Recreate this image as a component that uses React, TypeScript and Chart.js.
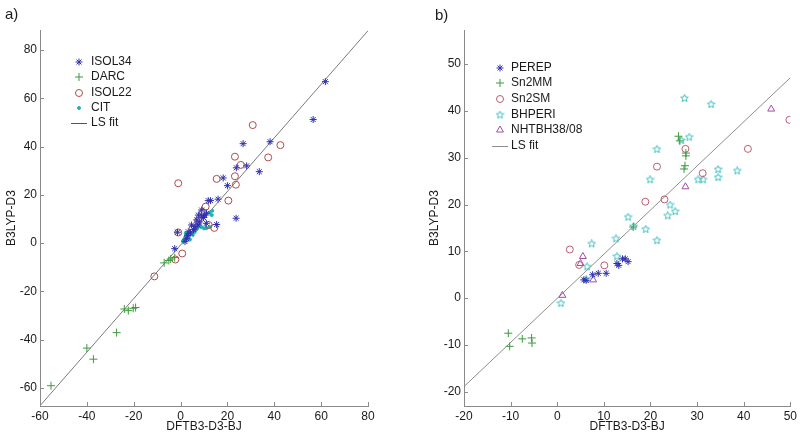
import React, { useEffect, useRef } from 'react';
import { Chart, registerables } from 'chart.js';
Chart.register(...registerables);

type P = [number, number];

// ---------- Panel a data ----------
const ISOL34: P[] = [
  [61.8, 66.9], [56.6, 51.2], [38.2, 42], [26.7, 41.2], [28.2, 32], [23.8, 31.2], [33.6, 29.6],
  [18.2, 27], [20, 23.8], [16, 18.2], [11.8, 17.6], [12.8, 17.6], [23.7, 10.3], [9, 13.7],
  [7.6, 11.6], [9, 11.3], [11.1, 12.4], [6.9, 9.6], [15.4, 7.7], [4.7, 7.5], [-1.3, 4.5],
  [3.3, 4.7], [4.2, 4.2], [1.9, 0.6], [-2.5, -2.3], [11, 8.2], [8, 8.8], [5.5, 5.6], [3, 3.2],
  [2.6, 1.8], [9.8, 10.6], [7.4, 7.6], [10.3, 11.6], [6.2, 6.8],
];
const DARC: P[] = [
  [-55.3, -59.1], [-40, -43.5], [-37.2, -48.1], [-27.3, -37.1], [-24, -27.3], [-22.3, -28],
  [-20.2, -27], [-19.2, -26.7], [-7, -8.2], [-5, -7.2], [-4.2, -6.6], [-2.5, -6],
];
const ISOL22: P[] = [
  [30.8, 48.9], [42.6, 40.6], [37.4, 35.5], [23.2, 35.8], [25.7, 32.4], [23.2, 27.7], [23.6, 24.2],
  [15.4, 26.6], [-1, 24.8], [20.4, 17.6], [10.7, 15.1], [14.4, 6.3], [-1, 4.4], [0.7, -4.3],
  [-2.2, -6.8], [-11.2, -13.8], [7.5, 9.2], [12, 7.5], [5.2, 6], [9.6, 12.8],
];
const CIT: P[] = [
  [13.5, 13.4], [13.3, 11.6], [12.4, 12.6], [9, 6.6], [10, 6.1], [11, 6.2], [12.3, 6.8], [8.3, 7],
  [6, 4.6], [5.2, 3.4], [4.4, 4], [3.4, 3], [2.5, 3.3], [2, 2.4], [1.4, 1.4], [1, 0.8], [3, 1.8],
  [5.6, 5], [4, 1.5], [6.6, 5.5], [7.2, 6.2], [2.2, 4],
];
const FIT_A: P[] = [[-60, -67.4], [80, 88]];

// ---------- Panel b data ----------
const PEREP: P[] = [
  [5.7, 3.9], [6.2, 3.8], [7.6, 5], [8.8, 5.3], [10.5, 5.3], [12.8, 7.4], [13.2, 7], [14, 8.4],
  [14.6, 8.4], [15.2, 7.8],
];
const SN2MM: P[] = [
  [-10.5, -7.5], [-10.2, -10.3], [-7.5, -8.7], [-5.5, -8.5], [-5.4, -9.6], [26, 34.6], [26.3, 33.6],
  [27.6, 31], [27.6, 30.4], [27.4, 28.3], [27.2, 27.6], [16.3, 15.2],
];
const SN2SM: P[] = [
  [49.8, 38.1], [40.9, 31.9], [31.2, 26.7], [21.4, 28.1], [27.5, 31.9], [18.9, 20.6], [23, 21.1],
  [2.7, 10.4], [10.1, 7], [4.7, 7.1],
];
const BHPERI: P[] = [
  [27.3, 42.7], [33, 41.4], [26.6, 33.7], [28.3, 34.4], [21.4, 31.8], [19.9, 25.3], [30.2, 25.3],
  [31.3, 25.3], [34.5, 27.5], [34.5, 25.8], [38.6, 27.2], [24.2, 19.9], [23.7, 17.6], [25.3, 18.5],
  [15.2, 17.3], [19, 14.7], [21.4, 12.3], [12.6, 12.7], [7.4, 11.6], [12.8, 8.9], [6.4, 6.7],
  [6.2, 4], [0.8, -1.1], [16.4, 15.3],
];
const NHTBH: P[] = [[45.9, 40.4], [27.5, 23.8], [5.5, 8.9], [5, 7.4], [7.7, 3.9], [1.1, 0.6]];
const FIT_B: P[] = [[-20, -18.9], [50, 47.1]];

const FONT = '"Liberation Sans", Arial, sans-serif';
const AXIS = '#8a8a8a';
const TXT = '#1a1a1a';

const C_BLUE = '#2f2fae';
const C_GREEN = '#3e9a3e';
const C_RED = '#b04a4a';
const C_CYAN = '#1fb3ad';
const C_PINK = '#bf5a70';
const C_CYAN2 = '#3fbfbf';
const C_MAG = '#a24ea8';

function pentagram(color: string) {
  const c = document.createElement('canvas');
  c.width = 9; c.height = 9;
  const g = c.getContext('2d')!;
  g.strokeStyle = color; g.lineWidth = 1;
  g.beginPath();
  for (let i = 0; i < 10; i++) {
    const r = i % 2 === 0 ? 4 : 1.8;
    const a = -Math.PI / 2 + (i * Math.PI) / 5;
    const x = 4.5 + r * Math.cos(a), y = 4.5 + r * Math.sin(a);
    if (i) g.lineTo(x, y); else g.moveTo(x, y);
  }
  g.closePath(); g.stroke();
  return c;
}

function marker(ctx: CanvasRenderingContext2D, style: any, x: number, y: number, r: number, color: string, fill?: string) {
  ctx.save();
  ctx.strokeStyle = color; ctx.lineWidth = 1;
  if (typeof style !== 'string') {
    ctx.drawImage(style, x - style.width / 2, y - style.height / 2);
  } else if (style === 'circle') {
    ctx.beginPath(); ctx.arc(x, y, r, 0, Math.PI * 2);
    if (fill) { ctx.fillStyle = fill; ctx.fill(); }
    ctx.stroke();
  } else if (style === 'cross') {
    ctx.beginPath(); ctx.moveTo(x - r, y); ctx.lineTo(x + r, y); ctx.moveTo(x, y - r); ctx.lineTo(x, y + r); ctx.stroke();
  } else if (style === 'star') {
    ctx.beginPath();
    ctx.moveTo(x - r, y); ctx.lineTo(x + r, y); ctx.moveTo(x, y - r); ctx.lineTo(x, y + r);
    const d = r * 0.7071;
    ctx.moveTo(x - d, y - d); ctx.lineTo(x + d, y + d); ctx.moveTo(x - d, y + d); ctx.lineTo(x + d, y - d);
    ctx.stroke();
  } else if (style === 'triangle') {
    const h = r * 0.866;
    ctx.beginPath();
    ctx.moveTo(x, y - r); ctx.lineTo(x + h, y + r / 2); ctx.lineTo(x - h, y + r / 2); ctx.closePath();
    ctx.stroke();
  }
  ctx.restore();
}

type LegendItem = { text: string; style?: any; color: string; radius?: number; fill?: string; line?: boolean };
type Deco = {
  label: string; labelX: number; labelY: number; legendY: number; step: number;
  markerX: number; textX: number; lineX0: number; lineX1: number; items: LegendItem[];
};

function makeDeco(o: Deco) {
  return {
    id: 'deco',
    afterDraw(chart: any) {
      const { ctx, chartArea } = chart;
      const x = chart.scales.x, y = chart.scales.y;
      ctx.save();
      ctx.strokeStyle = AXIS; ctx.lineWidth = 1;
      ctx.beginPath();
      x.ticks.forEach((t: any) => {
        const p = Math.round(x.getPixelForValue(t.value)) + 0.5;
        ctx.moveTo(p, chartArea.bottom); ctx.lineTo(p, chartArea.bottom - 4);
      });
      y.ticks.forEach((t: any) => {
        const p = Math.round(y.getPixelForValue(t.value)) + 0.5;
        ctx.moveTo(chartArea.left, p); ctx.lineTo(chartArea.left + 4, p);
      });
      ctx.stroke();
      ctx.fillStyle = TXT;
      ctx.font = `15px ${FONT}`;
      ctx.textBaseline = 'alphabetic';
      ctx.fillText(o.label, o.labelX, o.labelY);
      ctx.font = `12px ${FONT}`;
      ctx.textBaseline = 'middle';
      o.items.forEach((it, i) => {
        const yy = Math.round(o.legendY + i * o.step);
        if (it.line) {
          ctx.strokeStyle = it.color; ctx.lineWidth = 1;
          ctx.beginPath(); ctx.moveTo(o.lineX0, yy + 0.5); ctx.lineTo(o.lineX1, yy + 0.5); ctx.stroke();
        } else {
          marker(ctx, it.style, o.markerX, yy, it.radius || 3.5, it.color, it.fill);
        }
        ctx.fillStyle = TXT;
        ctx.fillText(it.text, o.textX, yy);
      });
      ctx.restore();
    },
  };
}

function pts(d: P[]) { return d.map(([x, y]) => ({ x, y })); }
function ds(label: string, d: P[], style: any, color: string, radius: number, fill?: string) {
  return {
    label, data: pts(d), pointStyle: style, pointRadius: radius, borderColor: color,
    backgroundColor: fill || 'rgba(0,0,0,0)', borderWidth: 1, showLine: false,
  };
}
function fit(d: P[], color: string) {
  return { label: 'LS fit', data: pts(d), showLine: true, borderColor: color, borderWidth: 1, pointRadius: 0, order: 10 };
}

function axes(xr: [number, number], yr: [number, number], step: number, yWidth: number) {
  const tick = { stepSize: step, includeBounds: false, padding: 3, color: TXT, maxRotation: 0, font: { family: FONT, size: 12 } };
  const grid = { display: false, drawTicks: false, tickLength: 0 };
  return {
    x: {
      type: 'linear', min: xr[0], max: xr[1], ticks: tick, grid,
      border: { display: true, color: AXIS, width: 1 },
      title: { display: true, text: 'DFTB3-D3-BJ', color: TXT, font: { family: FONT, size: 12, lineHeight: 1 }, padding: 0 },
      afterFit: (s: any) => { s.height = 27; },
    },
    y: {
      type: 'linear', min: yr[0], max: yr[1], ticks: tick, grid,
      border: { display: true, color: AXIS, width: 1 },
      title: { display: true, text: 'B3LYP-D3', color: TXT, font: { family: FONT, size: 12, lineHeight: 1 }, padding: { top: 4, bottom: 0 } },
      afterFit: (s: any) => { s.width = yWidth; },
    },
  };
}

export default function App() {
  const refA = useRef<HTMLCanvasElement>(null);
  const refB = useRef<HTMLCanvasElement>(null);
  useEffect(() => {
    document.body.style.margin = '0';
    const star5 = pentagram(C_CYAN2);
    const a = new Chart(refA.current!, {
      type: 'scatter',
      data: {
        datasets: [
          ds('ISOL34', ISOL34, 'star', C_BLUE, 3.5),
          ds('DARC', DARC, 'cross', C_GREEN, 4),
          ds('ISOL22', ISOL22, 'circle', C_RED, 3.5),
          ds('CIT', CIT, 'circle', C_CYAN, 1.5, C_CYAN),
          fit(FIT_A, '#7a7a7a'),
        ] as any,
      },
      options: {
        responsive: false, animation: false,
        layout: { padding: { left: 2, right: 32, top: 30, bottom: 0 } },
        plugins: { legend: { display: false }, tooltip: { enabled: false } },
        scales: axes([-60, 80], [-67.5, 88.3], 20, 38) as any,
      },
      plugins: [makeDeco({
        label: 'a)', labelX: 5, labelY: 19,
        legendY: 61.7, step: 15.4, markerX: 79, textX: 91, lineX0: 71, lineX1: 87,
        items: [
          { text: 'ISOL34', style: 'star', color: C_BLUE, radius: 3.5 },
          { text: 'DARC', style: 'cross', color: C_GREEN, radius: 4 },
          { text: 'ISOL22', style: 'circle', color: C_RED, radius: 3.5 },
          { text: 'CIT', style: 'circle', color: C_CYAN, radius: 1.5, fill: C_CYAN },
          { text: 'LS fit', line: true, color: '#555' },
        ],
      })],
    });
    const b = new Chart(refB.current!, {
      type: 'scatter',
      data: {
        datasets: [
          ds('PEREP', PEREP, 'star', C_BLUE, 3.5),
          ds('Sn2MM', SN2MM, 'cross', C_GREEN, 4),
          ds('Sn2SM', SN2SM, 'circle', C_PINK, 3.5),
          ds('BHPERI', BHPERI, star5, C_CYAN2, 4),
          ds('NHTBH38/08', NHTBH, 'triangle', C_MAG, 4),
          fit(FIT_B, '#8e8e8e'),
        ] as any,
      },
      options: {
        responsive: false, animation: false,
        layout: { padding: { left: 25, right: 7, top: 30, bottom: 0 } },
        plugins: { legend: { display: false }, tooltip: { enabled: false } },
        scales: axes([-20, 50], [-23.05, 57.3], 10, 39) as any,
      },
      plugins: [makeDeco({
        label: 'b)', labelX: 35, labelY: 20,
        legendY: 67.7, step: 15.6, markerX: 100, textX: 111, lineX0: 92, lineX1: 108,
        items: [
          { text: 'PEREP', style: 'star', color: C_BLUE, radius: 3.5 },
          { text: 'Sn2MM', style: 'cross', color: C_GREEN, radius: 4 },
          { text: 'Sn2SM', style: 'circle', color: C_PINK, radius: 3.5 },
          { text: 'BHPERI', style: star5, color: C_CYAN2, radius: 4 },
          { text: 'NHTBH38/08', style: 'triangle', color: C_MAG, radius: 4 },
          { text: 'LS fit', line: true, color: '#8e8e8e' },
        ],
      })],
    });
    return () => { a.destroy(); b.destroy(); };
  }, []);
  return (
    <div style={{ position: 'absolute', left: 0, top: 0, width: 800, height: 433, background: '#fff' }}>
      <canvas ref={refA} width={400} height={433} style={{ position: 'absolute', left: 0, top: 0 }} />
      <canvas ref={refB} width={400} height={433} style={{ position: 'absolute', left: 400, top: 0 }} />
    </div>
  );
}
